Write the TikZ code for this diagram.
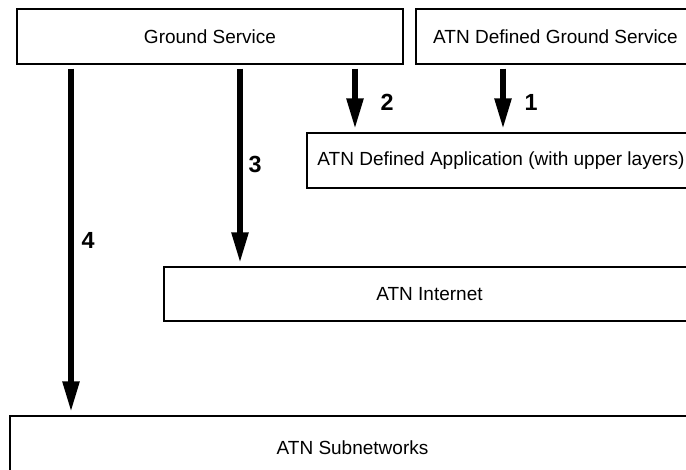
\documentclass[tikz,border=0pt]{standalone}
\usepackage{fontspec}
\setmainfont{Liberation Sans}
\usetikzlibrary{arrows.meta}
\begin{document}
\begin{tikzpicture}[x=0.75pt,y=-0.75pt,
  layerbox/.style={draw, line width=1.1pt, rectangle, inner sep=0pt,
    font=\fontsize{14.25}{17}\selectfont},
  flow/.style={line width=4.2pt, -{Triangle[length=23pt,width=12pt]},
    shorten <=3pt, shorten >=2.5pt},
  num/.style={font=\fontsize{17.5}{20}\selectfont\bfseries, inner sep=0pt}]
  \useasboundingbox (0,0) rectangle (686,470);
  \clip (0,0) rectangle (686,470);

  % layer boxes (the right-hand ones run past the page edge)
  \node[layerbox, minimum width=386*0.75pt, minimum height=55*0.75pt] (gs)   at (210,36.5)  {Ground Service};
  \node[layerbox, minimum width=279*0.75pt, minimum height=55*0.75pt] (adgs) at (555.5,36.5) {ATN Defined Ground Service};
  \node[layerbox, minimum width=388*0.75pt, minimum height=55*0.75pt] (app)  at (501,160.5) {ATN Defined Application (with upper layers)};
  \node[layerbox, minimum width=531*0.75pt, minimum height=54*0.75pt] (inet) at (429.5,294) {ATN Internet};
  \node[layerbox, minimum width=685*0.75pt, minimum height=64*0.75pt] (sub)  at (352.5,448) {ATN Subnetworks};

  % horizontal positions of the four service paths
  \coordinate (p1) at (503,0);
  \coordinate (p2) at (355,0);
  \coordinate (p3) at (240,0);
  \coordinate (p4) at (71,0);

  \draw[flow] (adgs.south -| p1) -- (app.north -| p1);
  \draw[flow] (gs.south -| p2)   -- (app.north -| p2);
  \draw[flow] (gs.south -| p3)   -- (inet.north -| p3);
  \draw[flow] (gs.south -| p4)   -- (sub.north -| p4);

  \node[num] (n1) at (531,102) {1};
  \node[num] (n2) at (387,102) {2};
  \node[num] (n3) at (255,164) {3};
  \node[num] (n4) at (88,240) {4};
\end{tikzpicture}
\end{document}
